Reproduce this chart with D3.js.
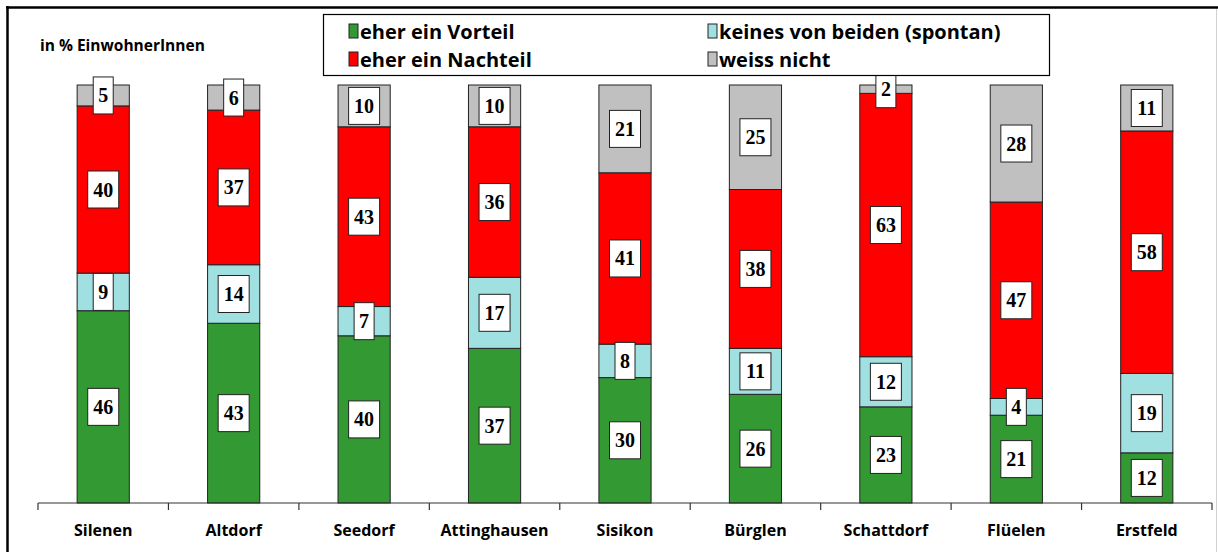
<!DOCTYPE html>
<html>
<head>
<meta charset="utf-8">
<script src="https://cdn.jsdelivr.net/npm/d3@7"></script>
<style>
  body { margin: 0; background: #fff; }
  svg { display: block; }
</style>
</head>
<body>
<div class="container"></div>
<script>
// communities and answer shares (in %)
var communities = ['Silenen', 'Altdorf', 'Seedorf', 'Attinghausen', 'Sisikon', 'Bürglen', 'Schattdorf', 'Flüelen', 'Erstfeld']
var vorteil  = [46, 43, 40, 37, 30, 26, 23, 21, 12]
var keines   = [9, 14, 7, 17, 8, 11, 12, 4, 19]
var nachteil = [40, 37, 43, 36, 41, 38, 63, 47, 58]
var weiss    = [5, 6, 10, 10, 21, 25, 2, 28, 11]

var seriesNames = ['eher ein Vorteil', 'keines von beiden (spontan)', 'eher ein Nachteil', 'weiss nicht']
var seriesColors = ['#339933', '#a0e0e0', '#ff0000', '#c0c0c0']

var chart = {
  width: 1218,
  height: 552,
  left: 38,
  right: 1212,
  baseline: 503,
  top: 85
}

var svg = d3.select('.container').append('svg')
            .attr('width', chart.width)
            .attr('height', chart.height)

// frame
svg.append('line').attr('x1', 6).attr('x2', chart.width).attr('y1', 7.5).attr('y2', 7.5)
   .style('stroke', '#000').style('stroke-width', 2.5)
svg.append('line').attr('x1', 7.5).attr('x2', 7.5).attr('y1', 6).attr('y2', chart.height)
   .style('stroke', '#000').style('stroke-width', 2.5)
svg.append('line').attr('x1', 1216.5).attr('x2', 1216.5).attr('y1', 9).attr('y2', chart.height)
   .style('stroke', '#d0d0d0').style('stroke-width', 1)

var x = d3.scaleBand().domain(communities).range([chart.left, chart.right]).padding(0)
var y = d3.scaleLinear().domain([0, 100]).range([chart.baseline, chart.top])
var barW = x.bandwidth() * 0.4

var rows = communities.map(function (c, i) {
  return { name: c, vorteil: vorteil[i], keines: keines[i], nachteil: nachteil[i], weiss: weiss[i] }
})
var keys = ['vorteil', 'keines', 'nachteil', 'weiss']
var stacked = d3.stack().keys(keys)(rows)

var layers = svg.selectAll('g.layer').data(stacked).enter().append('g')
   .attr('class', 'layer')
   .style('fill', function (d, i) { return seriesColors[i] })

layers.selectAll('rect').data(function (d) { return d }).enter().append('rect')
   .attr('x', function (d) { return x(d.data.name) + (x.bandwidth() - barW) / 2 })
   .attr('y', function (d) { return y(d[1]) })
   .attr('width', barW)
   .attr('height', function (d) { return y(d[0]) - y(d[1]) })
   .style('stroke', '#222')
   .style('stroke-width', 1)

// axis
var axisG = svg.append('g').attr('transform', 'translate(0,' + chart.baseline + ')')
axisG.append('line').attr('x1', chart.left).attr('x2', chart.right).attr('y1', 0).attr('y2', 0)
     .style('stroke', '#333').style('stroke-width', 1.2)
var tickPos = communities.map(function (c) { return x(c) }).concat([chart.right])
axisG.selectAll('line.tick').data(tickPos).enter().append('line')
     .attr('class', 'tick')
     .attr('x1', function (d) { return d }).attr('x2', function (d) { return d })
     .attr('y1', 0).attr('y2', 7)
     .style('stroke', '#333').style('stroke-width', 1.2)
axisG.selectAll('text').data(communities).enter().append('text')
     .attr('x', function (d) { return x(d) + x.bandwidth() / 2 })
     .attr('y', 33)
     .attr('text-anchor', 'middle')
     .style('font-family', 'Open Sans, sans-serif')
     .style('font-weight', 700)
     .style('font-size', '16px')
     .text(function (d) { return d })

// value labels
var labels = []
stacked.forEach(function (layer) {
  layer.forEach(function (d) {
    labels.push({ name: d.data.name, v: d[1] - d[0], mid: (d[0] + d[1]) / 2 })
  })
})
var lab = svg.selectAll('g.lab').data(labels).enter().append('g')
   .attr('class', 'lab')
   .attr('transform', function (d) {
     return 'translate(' + (x(d.name) + x.bandwidth() / 2) + ',' + y(d.mid) + ')'
   })
lab.append('rect')
   .attr('x', function (d) { return d.v >= 10 ? -15.5 : -10 })
   .attr('y', -18.5)
   .attr('width', function (d) { return d.v >= 10 ? 31 : 20 })
   .attr('height', 37)
   .style('fill', '#fff')
   .style('stroke', '#222')
   .style('stroke-width', 1)
lab.append('text')
   .attr('y', 7)
   .attr('text-anchor', 'middle')
   .style('font-family', 'Liberation Serif, serif')
   .style('font-weight', 700)
   .style('font-size', '20px')
   .text(function (d) { return d.v })

// unit label
svg.append('text').attr('x', 40).attr('y', 51)
   .style('font-family', 'Open Sans, sans-serif')
   .style('font-weight', 700)
   .style('font-size', '15.5px')
   .text('in % EinwohnerInnen')

// legend
var legend = svg.append('g')
legend.append('rect').attr('x', 323.5).attr('y', 14.5).attr('width', 726).attr('height', 61)
      .style('fill', '#fff').style('stroke', '#000').style('stroke-width', 1.2)
var legendItems = [
  { i: 0, x: 349, y: 31 },
  { i: 2, x: 349, y: 59 },
  { i: 1, x: 708, y: 31 },
  { i: 3, x: 708, y: 59 }
]
var li = legend.selectAll('g.item').data(legendItems).enter().append('g')
   .attr('class', 'item')
   .attr('transform', function (d) { return 'translate(' + d.x + ',' + d.y + ')' })
li.append('rect').attr('x', 0).attr('y', -7).attr('width', 9).attr('height', 14)
  .style('fill', function (d) { return seriesColors[d.i] })
  .style('stroke', '#222').style('stroke-width', 1)
li.append('text').attr('x', 11).attr('y', 7.5)
  .style('font-family', 'Open Sans, sans-serif')
  .style('font-weight', 700)
  .style('font-size', '20px')
  .text(function (d) { return seriesNames[d.i] })
</script>
</body>
</html>
